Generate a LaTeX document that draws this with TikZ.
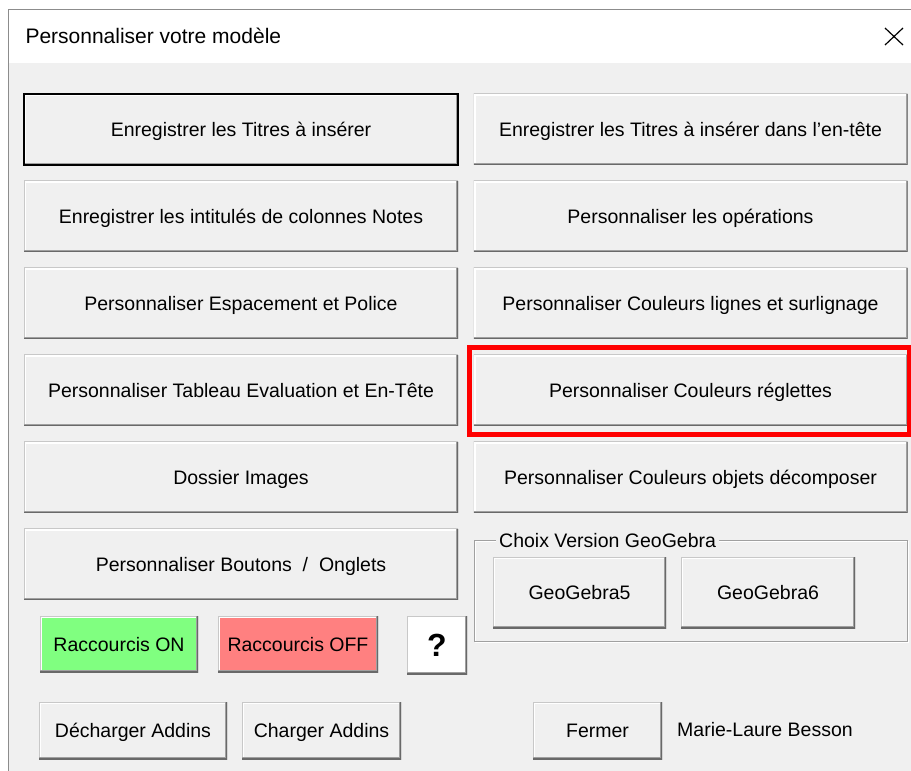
\documentclass[tikz,border=0pt]{standalone}
\usepackage{fontspec}
\setmainfont{Liberation Sans}
\usetikzlibrary{calc}

\definecolor{face}{HTML}{F0F0F0}
\definecolor{ombre}{HTML}{A0A0A0}
\definecolor{sombre}{HTML}{696969}
\definecolor{bord}{HTML}{C8C8C8}
\definecolor{cadre}{HTML}{8C8C8C}
\definecolor{vert}{HTML}{80FF80}
\definecolor{rose}{HTML}{FF8080}

\begin{document}
\begin{tikzpicture}[x=1pt, y=-1pt,
  every node/.style={font=\fontsize{19.5}{22}\selectfont, text height=14pt, text depth=0pt},
  btn/.style={fill=face, inner sep=0pt, path picture={
    \draw[fill=none, line width=4pt, white] (path picture bounding box.south west) -- (path picture bounding box.north west) -- (path picture bounding box.north east);
    \draw[fill=none, line width=1.4pt, bord] (path picture bounding box.south west) -- (path picture bounding box.north west) -- (path picture bounding box.north east);
    \draw[fill=none, line width=4pt, ombre] (path picture bounding box.south west) -- (path picture bounding box.south east) -- (path picture bounding box.north east);
    \draw[fill=none, line width=2pt, sombre] (path picture bounding box.south west) -- (path picture bounding box.south east) -- (path picture bounding box.north east);
  }},
  big/.style={btn, minimum width=434pt, minimum height=71pt},
  hilite/.style={draw=red, line width=5pt}
]
\useasboundingbox (0,0) rectangle (911,771);

% window
\fill[white] (0,0) rectangle (911,771);
\fill[face] (8,63) rectangle (911,771);
\draw[cadre] (8.5,771) -- (8.5,9.5) -- (911,9.5);
\node[anchor=west, font=\fontsize{21}{24}\selectfont, text height=15pt] (titre) at (22,36) {Personnaliser votre modèle};
\draw[line width=1.2pt] (885,28) -- (903,45) (885,45) -- (903,28);

% buttons
\node[big, draw=black, line width=2pt] (titres) at (241,129) {Enregistrer les Titres à insérer};
\node[big] (entete) at (690.5,129) {Enregistrer les Titres à insérer dans l'en-tête};
\node[big] (intitules) at (241,216) {Enregistrer les intitulés de colonnes Notes};
\node[big] (operations) at (690.5,216) {Personnaliser les opérations};
\node[big] (espacement) at (241,303) {Personnaliser Espacement et Police};
\node[big] (lignes) at (690.5,303) {Personnaliser Couleurs lignes et surlignage};
\node[big] (tableau) at (241,390) {Personnaliser Tableau Evaluation et En-Tête};
\node[big] (reglettes) at (690.5,390) {Personnaliser Couleurs réglettes};
\node[big] (images) at (241,477) {Dossier Images};
\node[big] (objets) at (690.5,477) {Personnaliser Couleurs objets décomposer};
\node[big] (boutons) at (241,564) {Personnaliser Boutons~~/~~Onglets};

\draw[hilite] ($(reglettes.north west)+(-4,-7)$) rectangle ($(reglettes.south east)+(2,9)$);

% GeoGebra group
\draw[white] (475,541) rectangle (908,642);
\node[draw=ombre, minimum width=433pt, minimum height=101pt] (groupe) at (690.5,590.5) {};
\node[fill=face, anchor=west, inner xsep=3pt] (choix) at (496,540) {Choix Version GeoGebra};
\node[btn, minimum width=173pt, minimum height=71pt] (geo5) at (579.5,592.5) {GeoGebra5};
\node[btn, minimum width=174pt, minimum height=71pt] (geo6) at (768,592.5) {GeoGebra6};

% small buttons
\node[btn, fill=vert, minimum width=158pt, minimum height=56pt] (raccon) at (119,644) {Raccourcis ON};
\node[btn, fill=rose, minimum width=160pt, minimum height=56pt] (raccoff) at (298,644) {Raccourcis OFF};
\node[btn, fill=white, minimum width=60pt, minimum height=58pt, font=\fontsize{32}{34}\selectfont\bfseries, text height=23pt] (aide) at (437,645) {?};
\node[btn, minimum width=188pt, minimum height=57pt] (decharger) at (133,730.5) {Décharger Addins};
\node[btn, minimum width=159pt, minimum height=57pt] (charger) at (321.5,730.5) {Charger Addins};
\node[btn, minimum width=129pt, minimum height=57pt] (fermer) at (597.5,730.5) {Fermer};
\node[anchor=west, inner xsep=0pt] (auteur) at (677,729) {Marie-Laure Besson};
\end{tikzpicture}
\end{document}
